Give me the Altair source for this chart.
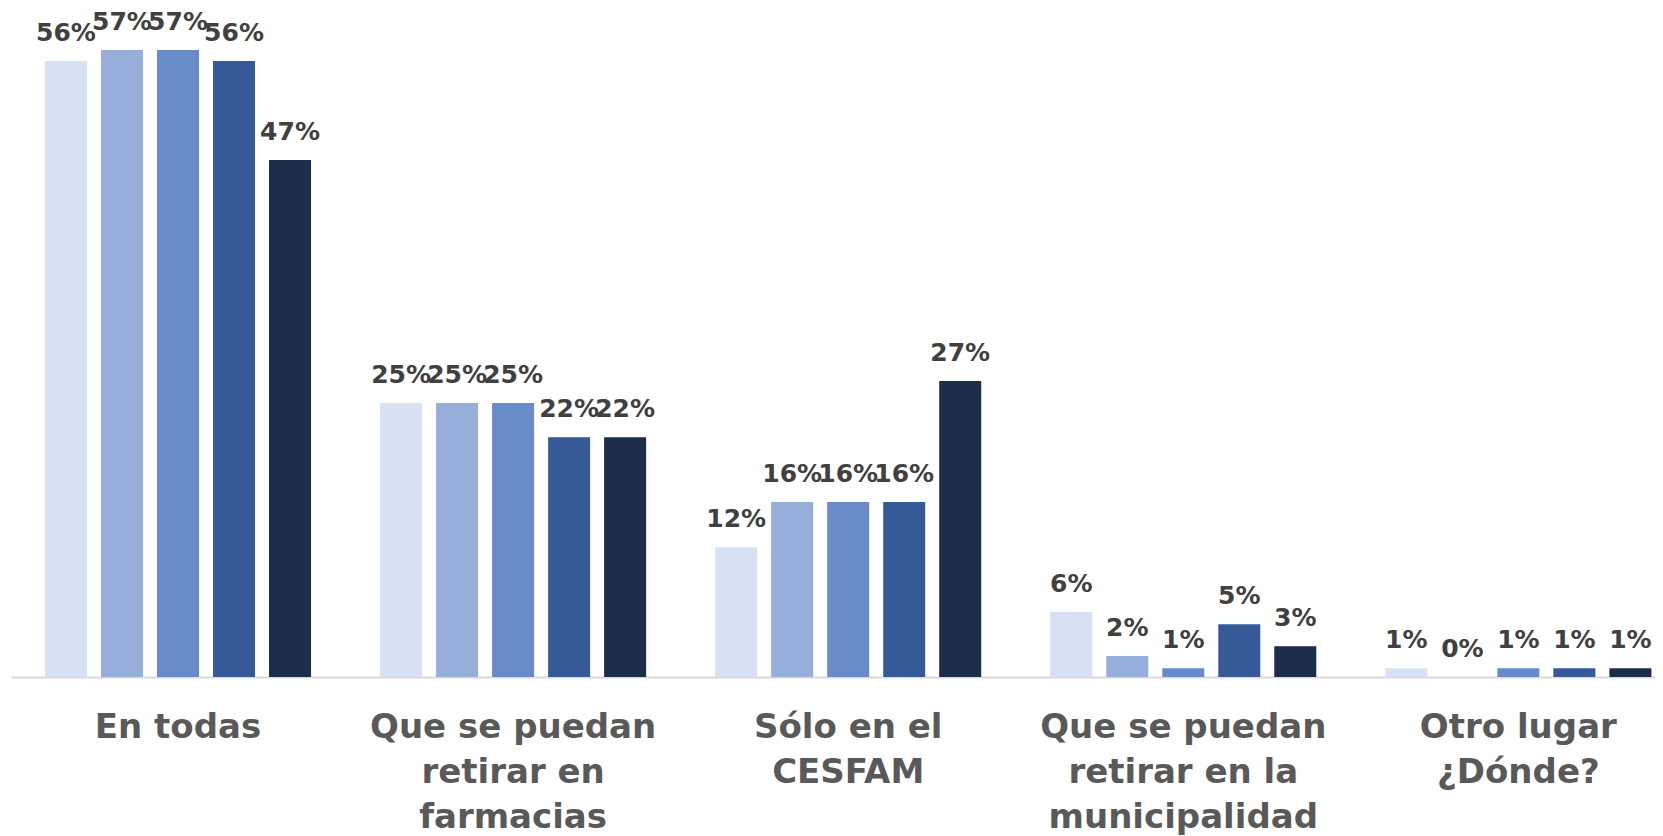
import altair as alt
import pandas as pd

categories = [
    "En todas",
    "Que se puedan\nretirar en\nfarmacias",
    "Sólo en el\nCESFAM",
    "Que se puedan\nretirar en la\nmunicipalidad",
    "Otro lugar\n¿Dónde?",
]
series = ["Serie 1", "Serie 2", "Serie 3", "Serie 4", "Serie 5"]
serie_1 = [56.0, 24.9, 11.8, 5.9, 0.8]
serie_2 = [57.0, 24.9, 15.9, 1.9, 0.0]
serie_3 = [57.0, 24.9, 15.9, 0.8, 0.8]
serie_4 = [56.0, 21.8, 15.9, 4.8, 0.8]
serie_5 = [47.0, 21.8, 26.9, 2.8, 0.8]
colors = ["#D6E1F4", "#97AEDA", "#6A8BC9", "#365A98", "#1D2C4B"]

rows = []
for s, vals in zip(series, [serie_1, serie_2, serie_3, serie_4, serie_5]):
    for c, v in zip(categories, vals):
        rows.append({"categoria": c, "serie": s, "valor": v / 100})
df = pd.DataFrame(rows)

x = alt.X(
    "categoria:N",
    sort=categories,
    scale=alt.Scale(paddingInner=0.206, paddingOuter=0.0561, align=0.904, round=False),
    axis=alt.Axis(
        title=None,
        labelAngle=0,
        labelExpr="split(datum.label, '\\n')",
        labelFont="DejaVu Sans",
        labelFontWeight="bold",
        labelFontSize=34,
        labelColor="#595959",
        labelLineHeight=45,
        labelPadding=33,
        labelBaseline="top",
        labelLimit=0,
        ticks=False,
        domainColor="#D9D9D9",
        domainWidth=2,
        grid=False,
    ),
)
xo = alt.XOffset("serie:N", sort=series, scale=alt.Scale(paddingInner=0.25, paddingOuter=0))
y = alt.Y("valor:Q", scale=alt.Scale(domain=[0, 0.6]), axis=None)

base = alt.Chart(df)
bars = base.mark_bar().encode(
    x=x,
    xOffset=xo,
    y=y,
    color=alt.Color("serie:N", scale=alt.Scale(domain=series, range=colors), legend=None),
)
labels = base.mark_text(
    dy=-20, baseline="alphabetic", font="DejaVu Sans", fontWeight="bold", fontSize=25, color="#404040"
).encode(
    x=x,
    xOffset=xo,
    y=y,
    text=alt.Text("valor:Q", format=".0%"),
)

chart = (
    alt.layer(bars, labels)
    .properties(
        width=1644,
        height=660,
        autosize=alt.AutoSizeParams(type="none"),
        padding={"left": 3, "top": 9, "right": 0, "bottom": 165},
    )
    .configure_view(stroke=None)
)
chart.save("out.html", embed_options={"renderer": "svg", "actions": False})
